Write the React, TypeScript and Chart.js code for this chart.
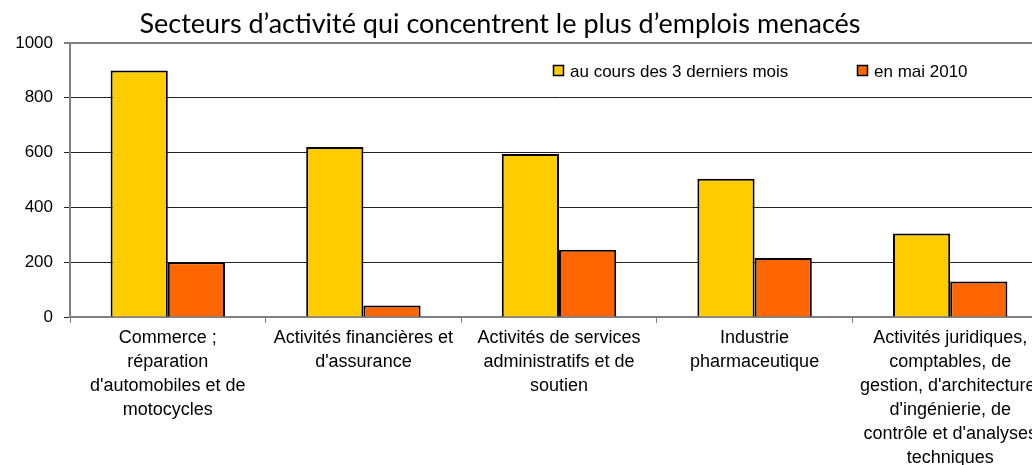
import React, { useEffect, useRef } from "react";
import { Chart, registerables } from "chart.js";

Chart.register(...registerables);

const titleText = "Secteurs d’activité qui concentrent le plus d’emplois menacés";

const categories: string[][] = [
  ["Commerce ;", "réparation", "d'automobiles et de", "motocycles"],
  ["Activités financières et", "d'assurance"],
  ["Activités de services", "administratifs et de", "soutien"],
  ["Industrie", "pharmaceutique"],
  [
    "Activités juridiques,",
    "comptables, de",
    "gestion, d'architecture,",
    "d'ingénierie, de",
    "contrôle et d'analyses",
    "techniques",
  ],
];

const seriesLabels = ["au cours des 3 derniers mois", "en mai 2010"];
const recentValues = [900, 620, 595, 505, 305];
const may2010Values = [200, 42, 245, 215, 130];

const yMin = 0;
const yMax = 1000;
const yStep = 200;

const FONT = "'Liberation Sans', Arial, sans-serif";

const overlayPlugin = {
  id: "overlay",
  afterDraw(chart: any) {
    const ctx = chart.ctx as CanvasRenderingContext2D;
    ctx.save();
    // title
    const targetWidth = 720;
    ctx.font = `26px Lato`;
    const w = ctx.measureText(titleText).width;
    const size = Math.round(((26 * targetWidth) / w) * 10) / 10;
    ctx.font = `${size}px Lato`;
    ctx.fillStyle = "#000";
    ctx.textAlign = "center";
    ctx.textBaseline = "alphabetic";
    ctx.fillText(titleText, 500, 33);

    // legend inside plot area
    const legendX = [553, 857];
    ctx.font = `17px ${FONT}`;
    ctx.textAlign = "left";
    chart.data.datasets.forEach((ds: any, i: number) => {
      const x = legendX[i];
      ctx.fillStyle = ds.backgroundColor;
      ctx.fillRect(x, 65, 11, 11);
      ctx.strokeStyle = "#000";
      ctx.lineWidth = 1.5;
      ctx.strokeRect(x + 0.5, 65.5, 10, 10);
      ctx.fillStyle = "#000";
      ctx.fillText(ds.label, x + 17, 76.5);
    });
    ctx.restore();
  },
};

export default function App() {
  const canvasRef = useRef<HTMLCanvasElement | null>(null);

  useEffect(() => {
    if (!canvasRef.current) return;
    const chart = new Chart(canvasRef.current, {
      type: "bar",
      data: {
        labels: categories,
        datasets: [
          {
            label: seriesLabels[0],
            data: recentValues,
            backgroundColor: "#FFCC00",
            borderColor: "#000",
            borderWidth: 2,
            categoryPercentage: 0.585,
            barPercentage: 1,
          },
          {
            label: seriesLabels[1],
            data: may2010Values,
            backgroundColor: "#FF6600",
            borderColor: "#000",
            borderWidth: 2,
            categoryPercentage: 0.585,
            barPercentage: 1,
          },
        ],
      },
      options: {
        responsive: false,
        animation: false,
        layout: { padding: { top: 43, left: 0, right: 0, bottom: 0 } },
        plugins: {
          legend: { display: false },
          title: { display: false },
          tooltip: { enabled: false },
        },
        scales: {
          x: {
            offset: true,
            grid: {
              offset: true,
              drawOnChartArea: false,
              drawTicks: true,
              tickLength: 6,
              color: "#808080",
              lineWidth: 1,
            },
            border: { color: "#808080", width: 2 },
            ticks: {
              color: "#000",
              font: { family: FONT, size: 18, lineHeight: 24 / 18 },
              padding: 3,
              maxRotation: 0,
              minRotation: 0,
              autoSkip: false,
            },
            afterFit: (scale: any) => {
              scale.height = 148;
            },
          },
          y: {
            min: yMin,
            max: yMax,
            ticks: {
              stepSize: yStep,
              color: "#000",
              font: { family: FONT, size: 17 },
              padding: 11,
              callback: (v: any) => String(v),
            },
            grid: {
              color: (c: any) => (c.tick && c.tick.value === yMax ? "#808080" : "#222"),
              lineWidth: (c: any) => (c.tick && c.tick.value === yMax ? 2 : 1),
              tickLength: 6,
            },
            border: { color: "#808080", width: 2 },
            afterFit: (scale: any) => {
              scale.width = 70;
            },
          },
        },
      },
      plugins: [overlayPlugin],
    });
    return () => chart.destroy();
  }, []);

  return (
    <div
      style={{
        position: "fixed",
        left: 0,
        top: 0,
        width: 1032,
        height: 465,
        overflow: "hidden",
        background: "#fff",
      }}
    >
      <canvas ref={canvasRef} width={1048} height={465} style={{ display: "block" }} />
    </div>
  );
}
